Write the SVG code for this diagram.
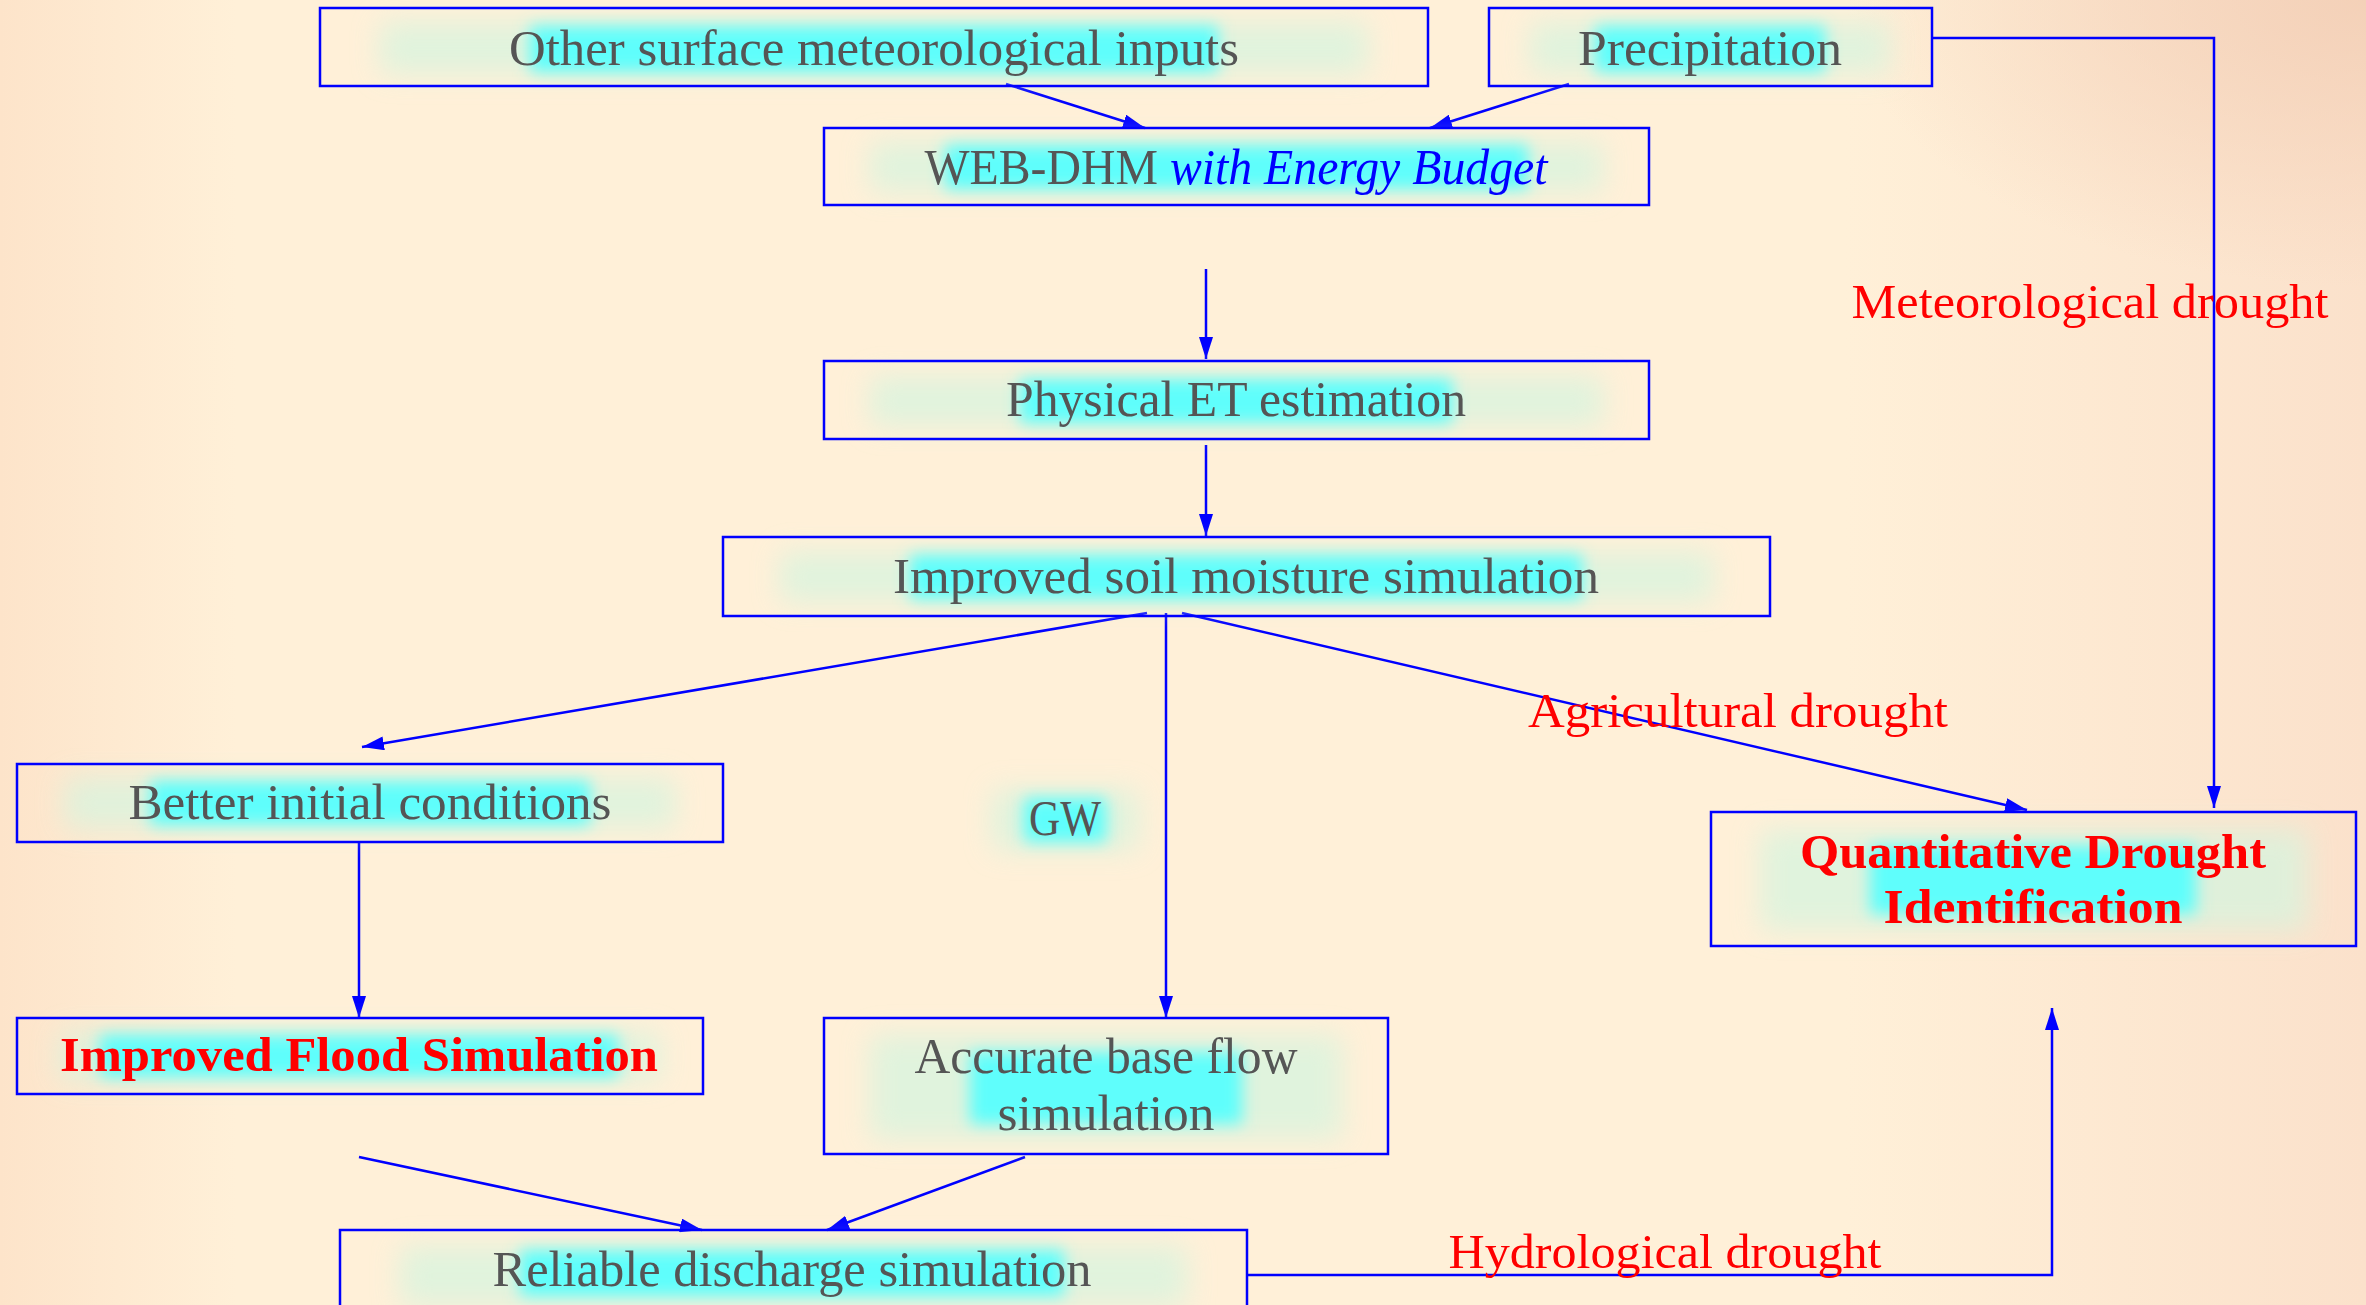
<svg xmlns="http://www.w3.org/2000/svg" width="2366" height="1305" viewBox="0 0 2366 1305">
<style>
.box{stroke:#0000ff;stroke-width:2.5;fill:none}
.g{fill:#5ffefc;filter:url(#blur)}
.h{fill:#d6f4df;opacity:0.75;filter:url(#blur2)}
.t{font-family:"Liberation Serif",serif;font-size:50px;fill:#555555;text-anchor:middle}
.r{font-family:"Liberation Serif",serif;font-size:48px;fill:#ff0000;text-anchor:middle}
.b{font-weight:bold}
.c{stroke:#0000ff;stroke-width:2.5;fill:none}
</style>
<defs>
<linearGradient id="bgx" x1="0" y1="0" x2="1" y2="0">
<stop offset="0" stop-color="#fde4ca"/>
<stop offset="0.1" stop-color="#fff0d8"/>
<stop offset="0.78" stop-color="#fff0d8"/>
<stop offset="1" stop-color="#fbe1cb"/>
</linearGradient>
<radialGradient id="tr" cx="100%" cy="0%" r="22%">
<stop offset="0" stop-color="#f3cfb6" stop-opacity="0.9"/>
<stop offset="1" stop-color="#f3cfb6" stop-opacity="0"/>
</radialGradient>
<filter id="blur" x="-30%" y="-100%" width="160%" height="300%">
<feGaussianBlur stdDeviation="8"/>
</filter>
<filter id="blur2" x="-20%" y="-60%" width="140%" height="220%">
<feGaussianBlur stdDeviation="14"/>
</filter>
<marker id="ah" markerUnits="userSpaceOnUse" markerWidth="22" markerHeight="14" refX="22" refY="7" orient="auto">
<path d="M0,0 L22,7 L0,14 z" fill="#0000ff"/>
</marker>
</defs>
<rect x="0" y="0" width="2366" height="1305" fill="url(#bgx)"/>
<rect x="0" y="0" width="2366" height="1305" fill="url(#tr)"/>

<g id="connectors">
<line class="c" x1="1006" y1="84" x2="1145" y2="128" marker-end="url(#ah)"/>
<line class="c" x1="1569" y1="84" x2="1430" y2="128" marker-end="url(#ah)"/>
<line class="c" x1="1206" y1="269" x2="1206" y2="359" marker-end="url(#ah)"/>
<line class="c" x1="1206" y1="445" x2="1206" y2="536" marker-end="url(#ah)"/>
<line class="c" x1="1147" y1="613" x2="362" y2="747" marker-end="url(#ah)"/>
<line class="c" x1="1166" y1="613" x2="1166" y2="1018" marker-end="url(#ah)"/>
<line class="c" x1="1182" y1="613" x2="2027" y2="810" marker-end="url(#ah)"/>
<line class="c" x1="359" y1="842" x2="359" y2="1018" marker-end="url(#ah)"/>
<line class="c" x1="359" y1="1157" x2="702" y2="1230" marker-end="url(#ah)"/>
<line class="c" x1="1025" y1="1157" x2="827" y2="1230" marker-end="url(#ah)"/>
<polyline class="c" points="1247,1275 2052,1275 2052,1008" marker-end="url(#ah)"/>
<polyline class="c" points="1932,38 2214,38 2214,808" marker-end="url(#ah)"/>
</g>

<g id="n-other">
<rect class="h" x="380" y="22" width="988" height="52"/>
<rect class="g" x="530" y="26" width="688" height="46"/>
<rect class="box" x="320" y="8" width="1108" height="78"/>
<text class="t" x="874" y="65" textLength="730" lengthAdjust="spacingAndGlyphs">Other surface meteorological inputs</text>
</g>
<g id="n-precip">
<rect class="h" x="1530" y="22" width="360" height="52"/>
<rect class="g" x="1595" y="26" width="230" height="46"/>
<rect class="box" x="1489" y="8" width="443" height="78"/>
<text class="t" x="1710" y="65" textLength="264" lengthAdjust="spacingAndGlyphs">Precipitation</text>
</g>
<g id="n-webdhm">
<rect class="h" x="870" y="142" width="733" height="50"/>
<rect class="g" x="945" y="145" width="583" height="44"/>
<rect class="box" x="824" y="128" width="825" height="77"/>
<text class="t" x="1236" y="184" textLength="623" lengthAdjust="spacingAndGlyphs">WEB-DHM <tspan fill="#0000ff" font-style="italic">with Energy Budget</tspan></text>
</g>
<g id="n-et">
<rect class="h" x="870" y="376" width="733" height="50"/>
<rect class="g" x="1020" y="379" width="432" height="44"/>
<rect class="box" x="824" y="361" width="825" height="78"/>
<text class="t" x="1236" y="416" textLength="460" lengthAdjust="spacingAndGlyphs">Physical ET estimation</text>
</g>
<g id="n-soil">
<rect class="h" x="780" y="552" width="933" height="50"/>
<rect class="g" x="910" y="555" width="672" height="44"/>
<rect class="box" x="723" y="537" width="1047" height="79"/>
<text class="t" x="1246" y="593" textLength="706" lengthAdjust="spacingAndGlyphs">Improved soil moisture simulation</text>
</g>
<g id="n-better">
<rect class="h" x="65" y="778" width="610" height="50"/>
<rect class="g" x="150" y="781" width="440" height="44"/>
<rect class="box" x="17" y="764" width="706" height="78"/>
<text class="t" x="370" y="819" textLength="483" lengthAdjust="spacingAndGlyphs">Better initial conditions</text>
</g>
<g id="n-gw">
<rect class="h" x="992" y="790" width="146" height="60"/>
<rect class="g" x="1024" y="798" width="82" height="44"/>
<text class="t" x="1065" y="835" textLength="72" lengthAdjust="spacingAndGlyphs">GW</text>
</g>
<g id="n-flood">
<rect class="h" x="60" y="1032" width="600" height="48"/>
<rect class="g" x="100" y="1035" width="518" height="42"/>
<rect class="box" x="17" y="1018" width="686" height="76"/>
<text class="r b" x="359" y="1071" textLength="598" lengthAdjust="spacingAndGlyphs">Improved Flood Simulation</text>
</g>
<g id="n-base">
<rect class="h" x="870" y="1035" width="472" height="104"/>
<rect class="g" x="970" y="1052" width="272" height="72"/>
<rect class="box" x="824" y="1018" width="564" height="136"/>
<text class="t" x="1106" y="1073" textLength="383" lengthAdjust="spacingAndGlyphs">Accurate base flow</text>
<text class="t" x="1106" y="1130" textLength="217" lengthAdjust="spacingAndGlyphs">simulation</text>
</g>
<g id="n-reliable">
<rect class="h" x="400" y="1246" width="787" height="60"/>
<rect class="g" x="520" y="1250" width="544" height="46"/>
<rect class="box" x="340" y="1230" width="907" height="90"/>
<text class="t" x="792" y="1286" textLength="599" lengthAdjust="spacingAndGlyphs">Reliable discharge simulation</text>
</g>
<g id="n-qdi">
<rect class="h" x="1760" y="830" width="547" height="100"/>
<rect class="g" x="1870" y="846" width="326" height="68"/>
<rect class="box" x="1711" y="812" width="645" height="134"/>
<text class="r b" x="2033" y="868" textLength="466" lengthAdjust="spacingAndGlyphs">Quantitative Drought</text>
<text class="r b" x="2033" y="923" textLength="299" lengthAdjust="spacingAndGlyphs">Identification</text>
</g>

<g id="labels">
<text class="r" x="2090" y="318" textLength="477" lengthAdjust="spacingAndGlyphs">Meteorological drought</text>
<text class="r" x="1738" y="727" textLength="420" lengthAdjust="spacingAndGlyphs">Agricultural drought</text>
<text class="r" x="1665" y="1268" textLength="433" lengthAdjust="spacingAndGlyphs">Hydrological drought</text>
</g>
</svg>
